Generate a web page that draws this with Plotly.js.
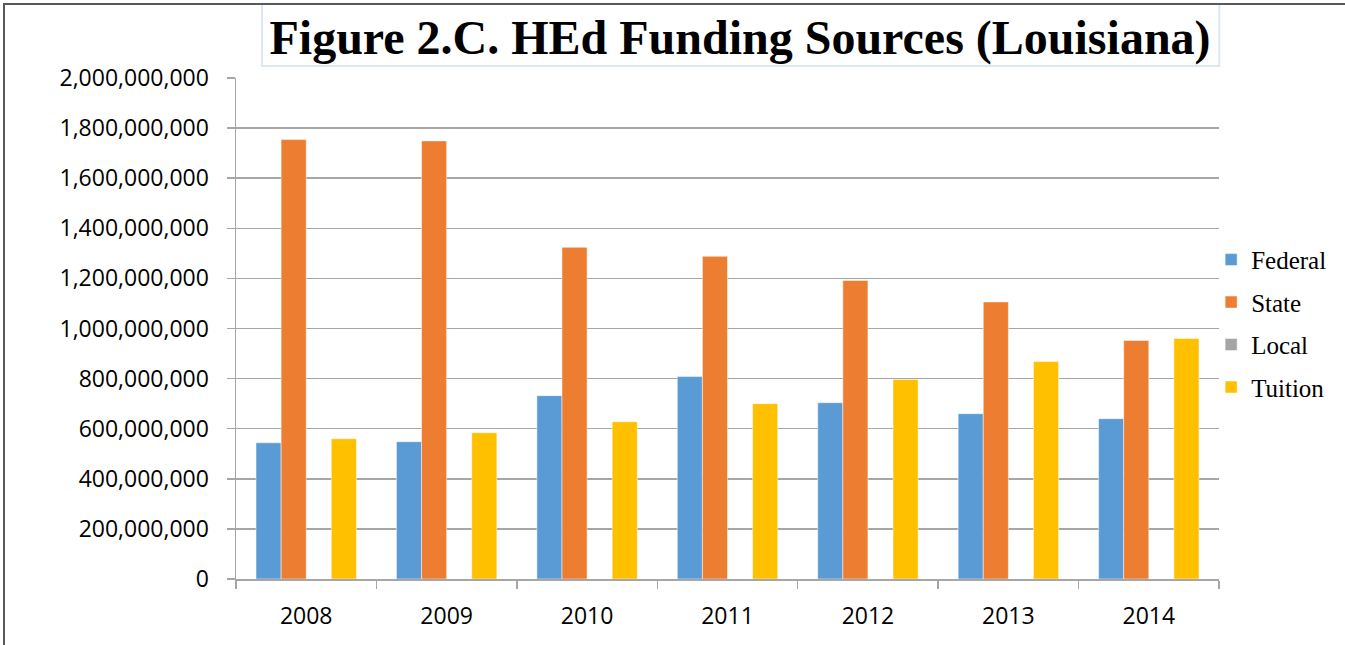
<!DOCTYPE html>
<html>
<head>
<meta charset="utf-8">
<script src="https://cdn.plot.ly/plotly-3.0.1.min.js"></script>
<style>
  html, body { margin: 0; padding: 0; background: #fff; }
  #chart { width: 1345px; height: 645px; position: relative; }
  .frameL { position: absolute; left: 3px; top: 3px; width: 2px; height: 642px; background: #595959; z-index: 5; }
  .frameT { position: absolute; left: 3px; top: 3px; width: 1342px; height: 1.5px; background: #595959; z-index: 5; }
</style>
</head>
<body>
<div id="chart"></div>
<div class="frameL"></div>
<div class="frameT"></div>
<script>
const years = ['2008', '2009', '2010', '2011', '2012', '2013', '2014'];
const federal = [544000000, 548000000, 732000000, 808000000, 704000000, 660000000, 640000000];
const state = [1754000000, 1749000000, 1324000000, 1288000000, 1192000000, 1106000000, 952000000];
const local = [0, 0, 0, 0, 0, 0, 0];
const tuition = [560000000, 584000000, 628000000, 700000000, 796000000, 868000000, 960000000];
const seriesNames = ['Federal', 'State', 'Local', 'Tuition'];
const seriesColors = ['#5B9BD5', '#ED7D31', '#A5A5A5', '#FFC000'];
const seriesValues = [federal, state, local, tuition];

const traces = seriesNames.map((n, i) => ({
  type: 'bar',
  name: n,
  x: years,
  y: seriesValues[i],
  legendgroup: n,
  marker: { color: seriesColors[i], line: { color: 'rgba(255,255,255,0.6)', width: 0.8 } },
  hoverinfo: 'x+y+name'
}));

const layout = {
  width: 1345,
  height: 645,
  margin: { l: 236, r: 126, t: 78, b: 66, autoexpand: false },
  paper_bgcolor: '#ffffff',
  plot_bgcolor: '#ffffff',
  barmode: 'group',
  bargap: 0.285,
  bargroupgap: 0,
  title: {
    text: '<b>Figure 2.C. HEd Funding Sources (Louisiana)</b>',
    font: { family: 'Liberation Serif, Times New Roman, serif', size: 48, color: '#000' },
    xref: 'container', yref: 'container',
    x: 0.5502, xanchor: 'center',
    y: 1 - 37 / 645, yanchor: 'middle'
  },
  xaxis: {
    type: 'category',
    showgrid: false,
    showline: true,
    linecolor: '#a6a6a6',
    linewidth: 1.5,
    ticks: 'outside',
    tickson: 'boundaries',
    ticklen: 8,
    tickcolor: '#a6a6a6',
    tickwidth: 1.5,
    tickfont: { family: 'Open Sans, Lato, sans-serif', size: 23, color: '#000' },
    ticklabelstandoff: 16
  },
  yaxis: {
    range: [0, 2000000000],
    dtick: 200000000,
    tick0: 0,
    tickformat: ',.0f',
    showgrid: true,
    gridcolor: '#a6a6a6',
    gridwidth: 1.5,
    showline: true,
    linecolor: '#a6a6a6',
    linewidth: 1.5,
    zeroline: false,
    ticks: 'outside',
    ticklen: 8,
    tickcolor: '#a6a6a6',
    tickwidth: 1.5,
    tickfont: { family: 'Open Sans, Lato, sans-serif', size: 23, color: '#000' },
    ticklabelstandoff: 13
  },
  legend: {
    x: 0.992, xanchor: 'left',
    y: 0.683, yanchor: 'top',
    font: { family: 'Liberation Serif, Times New Roman, serif', size: 25, color: '#000' },
    tracegroupgap: 7,
    itemwidth: 30,
    bgcolor: 'rgba(0,0,0,0)'
  },
  showlegend: true,
  shapes: [
    {
      type: 'rect', xref: 'paper', yref: 'paper',
      x0: 0.0265, x1: 1.0003, y0: 1.024, y1: 1.148,
      line: { color: '#dde7f4', width: 2 },
      fillcolor: 'rgba(0,0,0,0)',
      layer: 'below'
    }
  ]
};

Plotly.newPlot('chart', traces, layout, { displayModeBar: false, staticPlot: true });
</script>
</body>
</html>
